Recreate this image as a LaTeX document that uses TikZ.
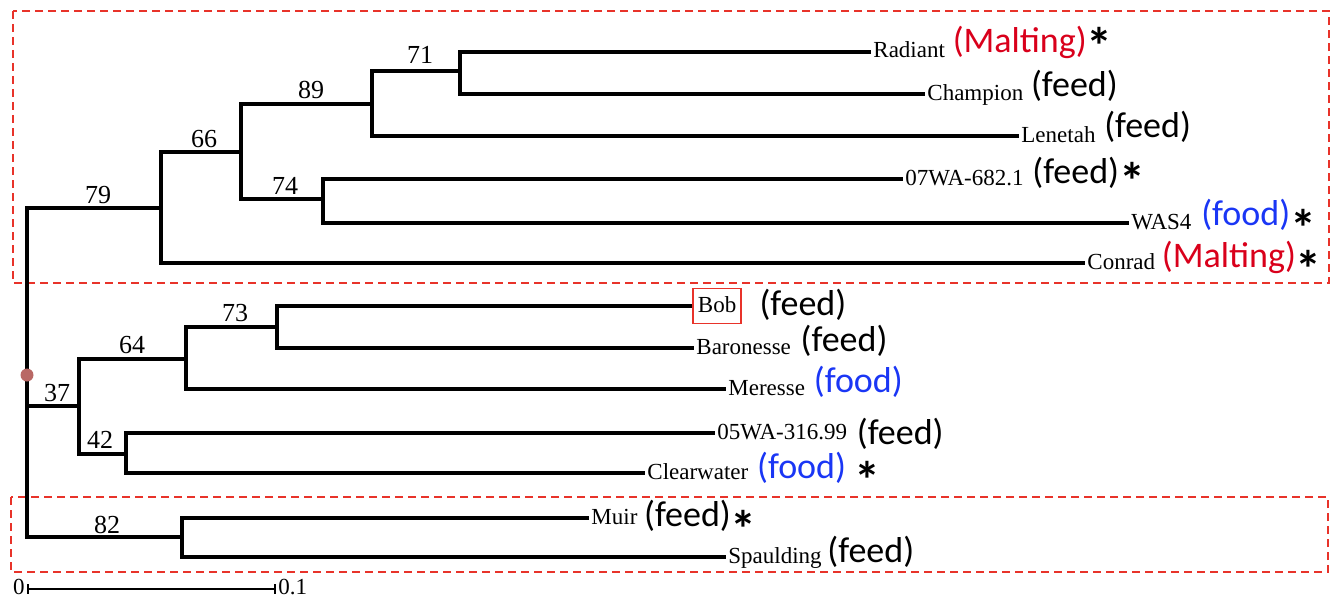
\documentclass[tikz,border=0pt]{standalone}
\usepackage{fontspec}
\setmainfont{Liberation Serif}
\newfontfamily\catfont{Carlito}
\usetikzlibrary{calc}
\definecolor{mred}{HTML}{D9001B}
\definecolor{fblue}{HTML}{1A36F5}
\definecolor{boxred}{HTML}{E8332A}
\definecolor{dotred}{HTML}{B96865}
\newcommand{\starmark}[1][-6pt]{\raisebox{#1}[0pt][0pt]{\fontsize{26}{26}\selectfont\textbf{*}}}
\begin{document}
\begin{tikzpicture}[x=0.5pt,y=-0.5pt,
  branch/.style={line width=2pt},
  leaf/.style={anchor=west, inner xsep=1pt, inner ysep=0pt, text height=8pt, text depth=2pt, font=\fontsize{11.5}{12}\selectfont},
  cat/.style={anchor=base west, inner sep=0pt, font=\catfont\fontsize{18}{18}\selectfont},
  boot/.style={anchor=base, inner sep=0pt, font=\fontsize{13}{14}\selectfont},
  group/.style={draw=boxred, line width=0.75pt, dash pattern=on 4pt off 2.5pt},
  scaletxt/.style={inner sep=0pt, font=\fontsize{11.5}{12}\selectfont}
]
\useasboundingbox (0,0) rectangle (1331,599);

% group boxes
\draw[group] (13,11) rectangle (1329,283);
\draw[group] (11,497) rectangle (1328,572);

% internal nodes
\coordinate (root) at (27,375);
\coordinate (A) at (161,208);
\coordinate (B) at (241,152);
\coordinate (C) at (372,104);
\coordinate (D) at (460,71);
\coordinate (E) at (323,199);
\coordinate (F) at (79,406);
\coordinate (G) at (186,359);
\coordinate (H) at (277,327);
\coordinate (I) at (126,454);
\coordinate (J) at (182,537);

% leaves
\node[leaf] (tRadiant) at (871,52) {Radiant};
\node[leaf] (tChampion) at (925,94) {Champion};
\node[leaf] (tLenetah) at (1019,136) {Lenetah};
\node[leaf] (t07) at (903,179) {07WA-682.1};
\node[leaf] (tWAS4) at (1129,223) {WAS4};
\node[leaf] (tConrad) at (1085,263) {Conrad};
\node[leaf, draw=boxred, line width=0.9pt, inner xsep=2.5pt, inner ysep=3.75pt] (tBob) at (692,306) {Bob};
\node[leaf] (tBaronesse) at (694,348) {Baronesse};
\node[leaf] (tMeresse) at (726,389) {Meresse};
\node[leaf] (t05) at (715,433) {05WA-316.99};
\node[leaf] (tClear) at (645,473) {Clearwater};
\node[leaf] (tMuir) at (589,518) {Muir};
\node[leaf] (tSpauld) at (726,557) {Spaulding};

% categories
\node[cat] (cRadiant) at ($(tRadiant.base east)+(5,-5)$) {{\color{mred}(Malting)}\starmark[-6pt]};
\node[cat] (cChampion) at ($(tChampion.base east)+(5,-3)$) {(feed)};
\node[cat] (cLenetah) at ($(tLenetah.base east)+(6,-5)$) {(feed)};
\node[cat] (c07) at ($(t07.base east)+(6,-2)$) {(feed)\starmark[-8pt]};
\node[cat] (cWAS4) at ($(tWAS4.base east)+(7,-4)$) {{\color{fblue}(food)}\starmark[-10.5pt]};
\node[cat] (cConrad) at ($(tConrad.base east)+(4,-2)$) {{\color{mred}(Malting)}\starmark[-10pt]};
\node[cat] (cBob) at ($(tBob.base east)+(17,3)$) {(feed)};
\node[cat] (cBaronesse) at ($(tBaronesse.base east)+(7,-3)$) {(feed)};
\node[cat] (cMeresse) at ($(tMeresse.base east)+(6,-3)$) {{\color{fblue}(food)}};
\node[cat] (c05) at ($(t05.base east)+(7,5)$) {(feed)};
\node[cat] (cClear) at ($(tClear.base east)+(6,-1)$) {{\color{fblue}(food)} \starmark[-10pt]};
\node[cat] (cMuir) at ($(tMuir.base east)+(4,2)$) {(feed)\starmark[-10.5pt]};
\node[cat] (cSpauld) at ($(tSpauld.base east)+(3,-1)$) {(feed)};

% branches
\draw[branch] (root) |- (A);
\draw[branch] (root) |- (F);
\draw[branch] (root) |- (J);
\draw[branch] (A) |- (B);
\draw[branch] (A) |- (tConrad.west);
\draw[branch] (B) |- (C);
\draw[branch] (B) |- (E);
\draw[branch] (C) |- (D);
\draw[branch] (C) |- (tLenetah.west);
\draw[branch] (D) |- (tRadiant.west);
\draw[branch] (D) |- (tChampion.west);
\draw[branch] (E) |- (t07.west);
\draw[branch] (E) |- (tWAS4.west);
\draw[branch] (F) |- (G);
\draw[branch] (F) |- (I);
\draw[branch] (G) |- (H);
\draw[branch] (G) |- (tMeresse.west);
\draw[branch] (H) |- (tBob.west);
\draw[branch] (H) |- (tBaronesse.west);
\draw[branch] (I) |- (t05.west);
\draw[branch] (I) |- (tClear.west);
\draw[branch] (J) |- (tMuir.west);
\draw[branch] (J) |- (tSpauld.west);

% root marker
\node[circle, fill=dotred, inner sep=0pt, minimum size=6.5pt] (dot) at (root) {};

% bootstrap values
\node[boot] (b79) at (98,203) {79};
\node[boot] (b66) at (204,147) {66};
\node[boot] (b89) at (311,98) {89};
\node[boot] (b71) at (420,64) {71};
\node[boot] (b74) at (285,194) {74};
\node[boot] (b73) at (235,321) {73};
\node[boot] (b64) at (132,353) {64};
\node[boot] (b37) at (57,401) {37};
\node[boot] (b42) at (100,448) {42};
\node[boot] (b82) at (107,533) {82};

% scale bar
\coordinate (s0) at (28,589);
\coordinate (s1) at (275,589);
\draw[line width=0.9pt] (s0) -- (s1);
\draw[line width=0.9pt] ($(s0)+(0,-5)$) -- ($(s0)+(0,5)$);
\draw[line width=0.9pt] ($(s1)+(0,-5)$) -- ($(s1)+(0,5)$);
\node[scaletxt, anchor=base east] (l0) at ($(s0)+(-3,5)$) {0};
\node[scaletxt, anchor=base west] (l1) at ($(s1)+(3,5)$) {0.1};
\end{tikzpicture}
\end{document}
